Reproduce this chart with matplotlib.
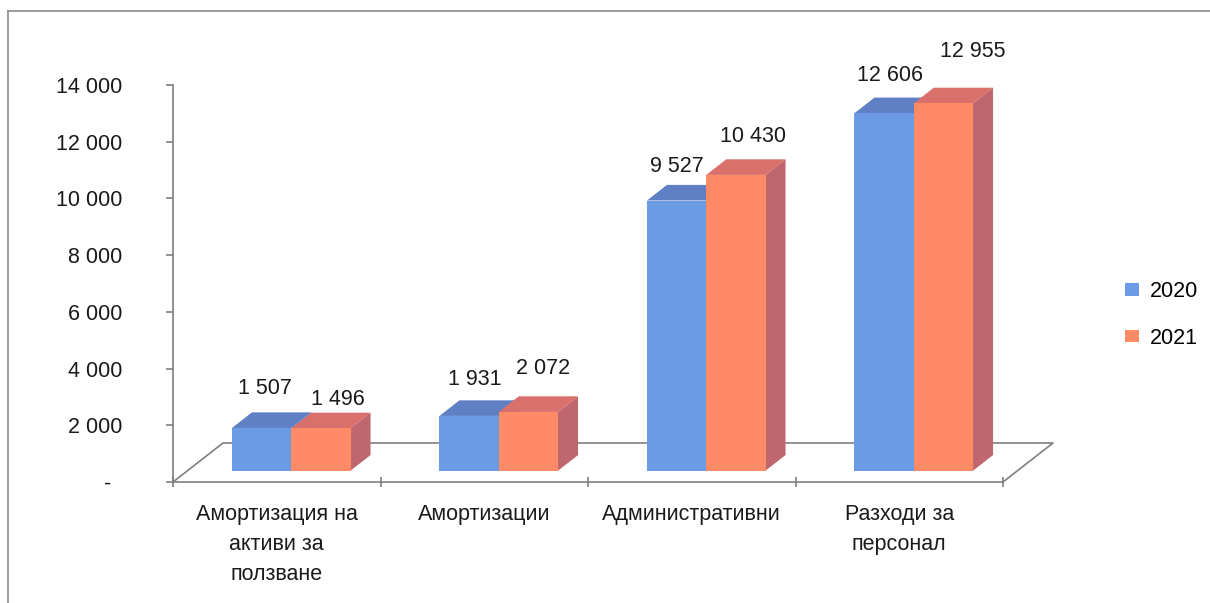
import numpy as np
import matplotlib
matplotlib.use("Agg")
import matplotlib.pyplot as plt
from matplotlib.patches import Polygon
from matplotlib.lines import Line2D
from matplotlib.transforms import ScaledTranslation

plt.rcParams['font.family'] = ['Liberation Sans', 'DejaVu Sans']

# data
categories = ["Амортизация на\nактиви за\nползване", "Амортизации",
              "Административни", "Разходи за\nперсонал"]
series = ["2020", "2021"]
values_2020 = [1507, 1931, 9527, 12606]
values_2021 = [1496, 2072, 10430, 12955]
yticks = [0, 2000, 4000, 6000, 8000, 10000, 12000, 14000]

# style
front_cols = ['#6C9BE6', '#FF8A66']
top_cols = ['#5F80C4', '#D9706B']
side_cols = ['#4F6FB0', '#C0666E']
grey = '#7f7f7f'
fs = 15.5
# label offsets (px) from the centre of each bar's top face
lab_off = [[(-7, -32), (-4, -29), (-10, -26), (-4, -30)],
           [(7, -21), (5, -36), (7, -31), (19, -44)]]

W, H = 1210, 603
cat_px = 207.5          # px per category
val_px = 0.02836        # px per unit value
x0_px, y0_px = 173, 482  # origin of the front floor edge
DX = 50 / cat_px         # full floor depth in data units
DY = 39 / val_px
f1, f2 = 0.29, 0.69      # bar depth span (fraction of floor depth)
w = 1 / 3.5              # bar width, gap width 150%

fig = plt.figure(figsize=(W / 100, H / 100), dpi=100)
ax = fig.add_axes([0, 0, 1, 1])
ax.set_xlim(-x0_px / cat_px, (W - x0_px) / cat_px)
ax.set_ylim(-(H - y0_px) / val_px, y0_px / val_px)
ax.patch.set_visible(False)

# floor outline
n = len(categories)
ax.plot([0, DX, n + DX, n], [0, DY, DY, 0], color=grey, lw=1.2, zorder=1)

dd = f2 - f1
allvals = [values_2020, values_2021]
handles = []
for i in range(n):
    for s in range(2):
        v = allvals[s][i]
        xl = i + 0.5 - w + s * w + f1 * DX
        b = f1 * DY
        side = Polygon([(xl + w, b), (xl + w, b + v), (xl + w + dd * DX, b + v + dd * DY),
                        (xl + w + dd * DX, b + dd * DY)], closed=True,
                       facecolor=side_cols[s], edgecolor='none', zorder=3 + i * 4 + s * 2)
        top = Polygon([(xl, b + v), (xl + w, b + v), (xl + w + dd * DX, b + v + dd * DY),
                       (xl + dd * DX, b + v + dd * DY)], closed=True,
                      facecolor=top_cols[s], edgecolor='none', zorder=3 + i * 4 + s * 2)
        ax.add_patch(side)
        ax.add_patch(top)
        bc = ax.bar(xl, v, width=w, bottom=b, align='edge', color=front_cols[s],
                    edgecolor='none', zorder=4 + i * 4 + s * 2,
                    label=series[s] if i == 0 else None)
        if i == 0:
            handles.append(bc)
        tx = xl + w / 2 + dd / 2 * DX
        ty = b + v + dd / 2 * DY
        ox, oy = lab_off[s][i]
        ax.annotate(f"{v:,}".replace(",", " "), xy=(tx, ty),
                    xytext=(ox * 0.72, -oy * 0.72), textcoords='offset points',
                    ha='center', va='center', fontsize=fs, color='#1a1a1a', zorder=20)

# axes
for sp in ['top', 'right']:
    ax.spines[sp].set_visible(False)
ax.spines['left'].set_position(('data', 0))
ax.spines['left'].set_bounds(0, 14000)
ax.spines['bottom'].set_position(('data', 0))
ax.spines['bottom'].set_bounds(0, n)
for sp in ['left', 'bottom']:
    ax.spines[sp].set_color(grey)
    ax.spines[sp].set_linewidth(1.2)
    ax.spines[sp].set_zorder(1)

ax.set_yticks(yticks, labels=[f"{t:,}".replace(",", " ") if t else "-" for t in yticks])
ax.tick_params(axis='y', direction='out', length=5, width=1.2, color=grey,
               pad=31.5, labelsize=fs, labelcolor='#1a1a1a')
ax.set_xticks(range(n + 1))
ax.set_xticks(np.arange(n) + 0.5, labels=categories, minor=True)
ax.tick_params(axis='x', which='major', direction='inout', length=7, width=1.2,
               color=grey, labelbottom=False)
ax.tick_params(axis='x', which='minor', length=0, pad=16, labelsize=fs,
               labelcolor='#1a1a1a')
for lbl in ax.get_xticklabels(minor=True):
    lbl.set_linespacing(1.55)
zero_lbl = ax.get_yticklabels()[0]
zero_lbl.set_transform(zero_lbl.get_transform() + ScaledTranslation(-0.11, 0, fig.dpi_scale_trans))

ax.legend(handles=handles, loc='center left', bbox_to_anchor=(1114 / W, 1 - 315 / H),
          bbox_transform=fig.transFigure, frameon=False, fontsize=fs,
          handlelength=0.65, handleheight=0.5, handletextpad=0.5,
          labelspacing=1.2, borderpad=0)

# chart border
fig.add_artist(Line2D([8 / W, 1], [1 - 11 / H, 1 - 11 / H], transform=fig.transFigure,
                      color='#8a8a8a', lw=1.2))
fig.add_artist(Line2D([8 / W, 8 / W], [0, 1 - 11 / H], transform=fig.transFigure,
                      color='#8a8a8a', lw=1.2))

fig.savefig("out.png", dpi=100)
